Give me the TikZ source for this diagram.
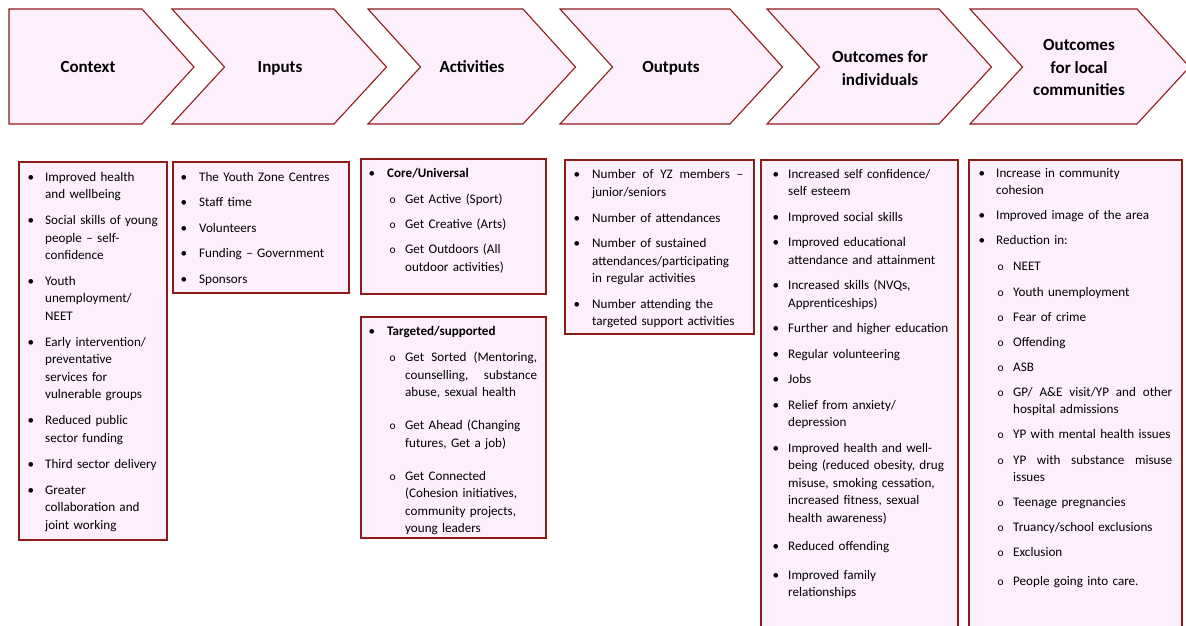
\documentclass[tikz,border=0pt]{standalone}
\usepackage{fontspec}
\setmainfont{Carlito}
\usepackage{xcolor}
\usepackage{tikz}
\usetikzlibrary{positioning}

\definecolor{chevfill}{HTML}{FDF0FC}
\definecolor{chevline}{HTML}{8E1A1A}

% list helpers
\newlength\labw \newlength\subin \newlength\subw \newlength\gapw
\newcommand{\itm}[1]{\noindent\strut\makebox[\labw][l]{\textbullet}\parbox[t]{\dimexpr\linewidth-\labw\relax}{#1\strut}\par\prevdepth=\dp\strutbox\relax\vspace{\gapw}}
\newcommand{\subitm}[1]{\noindent\strut\hspace*{\subin}\makebox[\subw][l]{\fontsize{11.5}{11.5}\selectfont o}\parbox[t]{\dimexpr\linewidth-\subin-\subw\relax}{#1\strut}\par\prevdepth=\dp\strutbox\relax\vspace{\gapw}}
\newcommand{\jl}[1]{\makebox[\hsize][s]{\spaceskip=0pt\xspaceskip=0pt\relax #1}}

\begin{document}
\begin{tikzpicture}[x=1pt, y=-1pt,
    chev/.style={fill=chevfill, draw=chevline, line width=1.1pt, line join=miter},
    box/.style={fill=chevfill, draw=chevline, line width=1.8pt},
    title/.style={align=center, inner sep=0pt, font=\bfseries\fontsize{17}{22.5}\selectfont},
    lst/.style={anchor=north west, inner sep=0pt, align=left, font=\fontsize{13.1}{17.4}\selectfont},
    marks/.style n args={4}{execute at begin node={\hyphenpenalty=10000\relax\setlength\labw{#1}\setlength\subin{#2}\setlength\subw{#3}\setlength\gapw{#4}}}]

    \useasboundingbox (0,0) rectangle (1186,625);
    \clip (0,0) rectangle (1186,625);

    % 1. Chevrons along the top
    \draw[chev] (9,9) -- (142,9) -- (194,67) -- (142,124) -- (9,124) -- cycle;
    \foreach \l/\r in {172/334, 368/523, 560/730, 767/939, 970/1137}
        \draw[chev] (\l,9) -- (\r,9) -- (\r+52.5,67) -- (\r,124) -- (\l,124) -- (\l+52.5,67) -- cycle;

    % 2. Chevron titles
    \node[title] (ctx) at (88,68) {\strut Context\strut};
    \node[title] (inp) at (280,68) {\strut Inputs\strut};
    \node[title] (act) at (472,68) {\strut Activities\strut};
    \node[title] (outp) at (671,68) {\strut Outputs\strut};
    \node[title] (indiv) at (880,69.5) {\strut Outcomes for\\individuals\strut};
    \node[title] (comm) at (1079,68.5) {\strut Outcomes\\for local\\communities\strut};

    % 3. Boxes below
    \draw[box] (19,162) rectangle (167,540);
    \draw[box] (173,162) rectangle (349,293);
    \draw[box] (361,159) rectangle (546,294);
    \draw[box] (361,317) rectangle (546,538);
    \draw[box] (565,160) rectangle (754,334);
    \draw[box] (761,160) rectangle (958,640);
    \draw[box] (969,160) rectangle (1182,640);

    % 4. Box contents
    \node[lst, text width=137pt, marks={17.5pt}{0pt}{0pt}{8.7pt}] (ctxlist) at (27.5,168.8) {%
        \itm{Improved health\\and wellbeing}
        \itm{Social skills of young\\people -- self-\\confidence}
        \itm{Youth\\unemployment/\\NEET}
        \itm{Early intervention/\\preventative\\services for\\vulnerable groups}
        \itm{Reduced public\\sector funding}
        \itm{Third sector delivery}
        \itm{Greater\\collaboration and\\joint working}};

    \node[lst, text width=165pt, marks={18.5pt}{0pt}{0pt}{8.2pt}] (inplist) at (180.5,168.8) {%
        \itm{The Youth Zone Centres}
        \itm{Staff time}
        \itm{Volunteers}
        \itm{Funding -- Government}
        \itm{Sponsors}};

    \node[lst, text width=168.5pt, marks={18.5pt}{21pt}{15.5pt}{8pt}] (corelist) at (368.5,165.4) {%
        \itm{\textbf{Core/Universal}}
        \subitm{Get Active (Sport)}
        \subitm{Get Creative (Arts)}
        \subitm{Get Outdoors (All\\outdoor activities)}};

    \node[lst, text width=168.5pt, marks={18.5pt}{21pt}{15.5pt}{15.8pt}] (tgtlist) at (368.5,323.4) {%
        \itm{\textbf{Targeted/supported}}\vspace{-7.2pt}
        \subitm{\jl{Get Sorted (Mentoring,}\\\jl{counselling, substance}\\abuse, sexual health}
        \subitm{Get Ahead (Changing\\futures, Get a job)}
        \subitm{Get Connected\\(Cohesion initiatives,\\community projects,\\young leaders}};

    \node[lst, text width=169.5pt, marks={18.5pt}{0pt}{0pt}{8.4pt}] (outlist) at (573.5,166.6) {%
        \itm{\jl{Number of YZ members --}\\junior/seniors}
        \itm{Number of attendances}
        \itm{Number of sustained\\attendances/participating\\in regular activities}
        \itm{Number attending the\\targeted support activities}};

    \node[lst, text width=183pt, marks={15.5pt}{0pt}{0pt}{8.2pt}] (indlist) at (772.5,165.8) {%
        \itm{Increased self confidence/\\self esteem}
        \itm{Improved social skills}
        \itm{Improved educational\\attendance and attainment}
        \itm{Increased skills (NVQs,\\Apprenticeships)}
        \itm{Further and higher education}
        \itm{Regular volunteering}
        \itm{Jobs}
        \itm{Relief from anxiety/\\depression}
        \itm{Improved health and well-\\being (reduced obesity, drug\\misuse, smoking cessation,\\increased fitness, sexual\\health awareness)}\vspace{2.4pt}
        \itm{Reduced offending}\vspace{3.4pt}
        \itm{Improved family\\relationships}};

    \node[lst, text width=193.5pt, marks={17.5pt}{19pt}{15.5pt}{7.7pt}] (comlist) at (978.5,164.9) {%
        \itm{Increase in community\\cohesion}
        \itm{Improved image of the area}
        \itm{Reduction in:}\vspace{1pt}
        \subitm{NEET}
        \subitm{Youth unemployment}
        \subitm{Fear of crime}
        \subitm{Offending}
        \subitm{ASB}
        \subitm{\jl{GP/ A\&E visit/YP and other}\\hospital admissions}
        \subitm{YP with mental health issues}
        \subitm{\jl{YP with substance misuse}\\issues}
        \subitm{Teenage pregnancies}
        \subitm{Truancy/school exclusions}
        \subitm{Exclusion}\vspace{4pt}
        \subitm{People going into care.}};

\end{tikzpicture}
\end{document}
